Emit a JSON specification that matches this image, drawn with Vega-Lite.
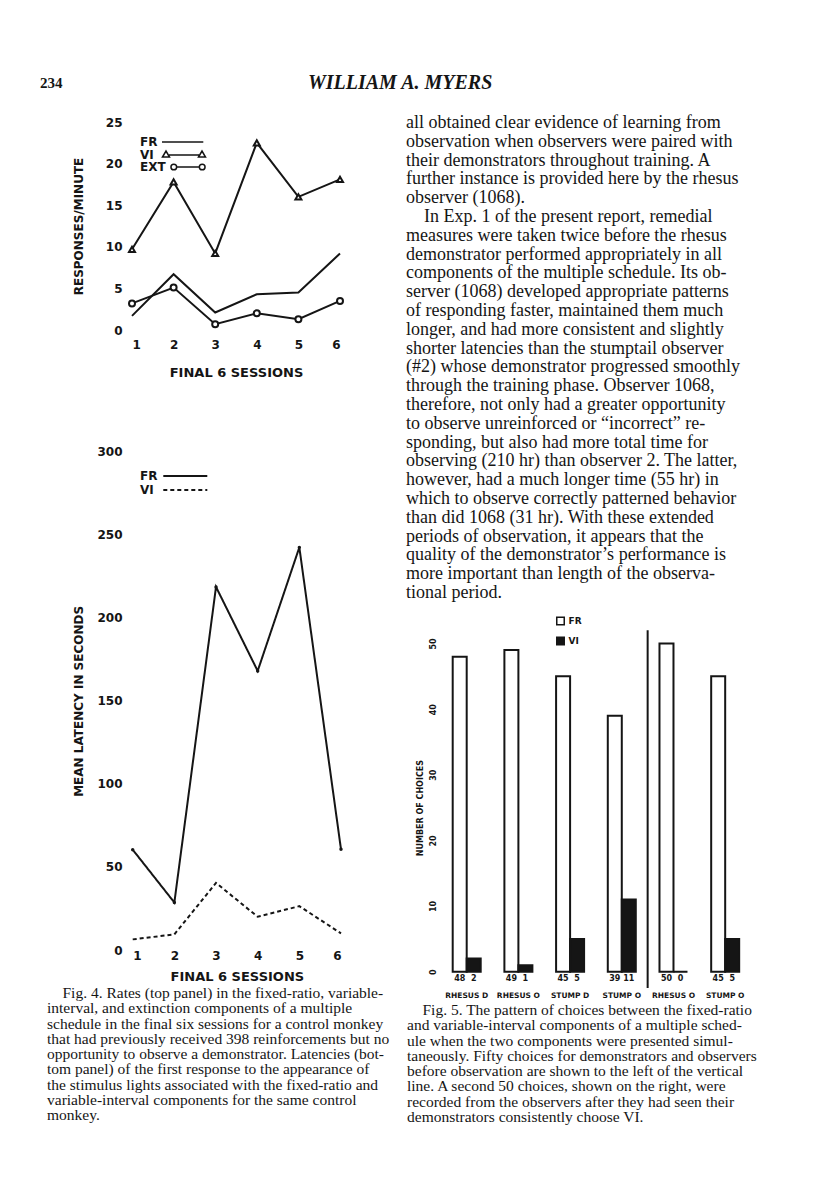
{
  "$schema": "https://vega.github.io/schema/vega-lite/v6.json",
  "width": 816,
  "height": 1193,
  "autosize": {"type": "none"},
  "padding": 0,
  "background": "white",
  "config": {
    "view": {"stroke": null},
    "axis": {"domain": false, "ticks": false, "grid": false, "labelFont": "DejaVu Sans", "labelFontWeight": "bold", "labelColor": "#151515", "titleFont": "DejaVu Sans", "titleFontWeight": "bold", "titleColor": "#151515"},
    "legend": {"labelFont": "DejaVu Sans", "labelFontWeight": "bold", "labelColor": "#151515", "padding": 0}
  },
  "datasets": {
    "top": [
      {"session": 1, "series": "FR", "value": 1.7}, {"session": 2, "series": "FR", "value": 6.7}, {"session": 3, "series": "FR", "value": 2.1},
      {"session": 4, "series": "FR", "value": 4.3}, {"session": 5, "series": "FR", "value": 4.5}, {"session": 6, "series": "FR", "value": 9.2},
      {"session": 1, "series": "VI", "value": 9.7}, {"session": 2, "series": "VI", "value": 17.8}, {"session": 3, "series": "VI", "value": 9.2},
      {"session": 4, "series": "VI", "value": 22.5}, {"session": 5, "series": "VI", "value": 16.0}, {"session": 6, "series": "VI", "value": 18.1},
      {"session": 1, "series": "EXT", "value": 3.2}, {"session": 2, "series": "EXT", "value": 5.1}, {"session": 3, "series": "EXT", "value": 0.7},
      {"session": 4, "series": "EXT", "value": 2.0}, {"session": 5, "series": "EXT", "value": 1.3}, {"session": 6, "series": "EXT", "value": 3.5}
    ],
    "latency": [
      {"session": 1, "series": "FR", "value": 60.4}, {"session": 2, "series": "FR", "value": 28.6}, {"session": 3, "series": "FR", "value": 218.6},
      {"session": 4, "series": "FR", "value": 168}, {"session": 5, "series": "FR", "value": 242.4}, {"session": 6, "series": "FR", "value": 60.6},
      {"session": 1, "series": "VI", "value": 6.4}, {"session": 2, "series": "VI", "value": 9.4}, {"session": 3, "series": "VI", "value": 40.4},
      {"session": 4, "series": "VI", "value": 20}, {"session": 5, "series": "VI", "value": 26.4}, {"session": 6, "series": "VI", "value": 10}
    ],
    "choices": [
      {"group": 1, "subject": "RHESUS D", "component": "fixed-ratio", "value": 48}, {"group": 1, "subject": "RHESUS D", "component": "variable-interval", "value": 2},
      {"group": 2, "subject": "RHESUS O", "component": "fixed-ratio", "value": 49}, {"group": 2, "subject": "RHESUS O", "component": "variable-interval", "value": 1},
      {"group": 3, "subject": "STUMP D", "component": "fixed-ratio", "value": 45}, {"group": 3, "subject": "STUMP D", "component": "variable-interval", "value": 5},
      {"group": 4, "subject": "STUMP O", "component": "fixed-ratio", "value": 39}, {"group": 4, "subject": "STUMP O", "component": "variable-interval", "value": 11},
      {"group": 5, "subject": "RHESUS O", "component": "fixed-ratio", "value": 50}, {"group": 5, "subject": "RHESUS O", "component": "variable-interval", "value": 0},
      {"group": 6, "subject": "STUMP O", "component": "fixed-ratio", "value": 45}, {"group": 6, "subject": "STUMP O", "component": "variable-interval", "value": 5}
    ],
    "text": [
      {"block": "pagenum", "line": 1, "text": "234"},
      {"block": "running", "line": 1, "text": "WILLIAM A. MYERS"},
      {"block": "body", "line": 1, "text": "all obtained clear evidence of learning from"},
      {"block": "body", "line": 2, "text": "observation when observers were paired with"},
      {"block": "body", "line": 3, "text": "their demonstrators throughout training. A"},
      {"block": "body", "line": 4, "text": "further instance is provided here by the rhesus"},
      {"block": "body", "line": 5, "text": "observer (1068)."},
      {"block": "body", "line": 6, "text": "\u2060\u00a0\u00a0\u00a0\u00a0In Exp. 1 of the present report, remedial"},
      {"block": "body", "line": 7, "text": "measures were taken twice before the rhesus"},
      {"block": "body", "line": 8, "text": "demonstrator performed appropriately in all"},
      {"block": "body", "line": 9, "text": "components of the multiple schedule. Its ob-"},
      {"block": "body", "line": 10, "text": "server (1068) developed appropriate patterns"},
      {"block": "body", "line": 11, "text": "of responding faster, maintained them much"},
      {"block": "body", "line": 12, "text": "longer, and had more consistent and slightly"},
      {"block": "body", "line": 13, "text": "shorter latencies than the stumptail observer"},
      {"block": "body", "line": 14, "text": "(#2) whose demonstrator progressed smoothly"},
      {"block": "body", "line": 15, "text": "through the training phase. Observer 1068,"},
      {"block": "body", "line": 16, "text": "therefore, not only had a greater opportunity"},
      {"block": "body", "line": 17, "text": "to observe unreinforced or \u201cincorrect\u201d re-"},
      {"block": "body", "line": 18, "text": "sponding, but also had more total time for"},
      {"block": "body", "line": 19, "text": "observing (210 hr) than observer 2. The latter,"},
      {"block": "body", "line": 20, "text": "however, had a much longer time (55 hr) in"},
      {"block": "body", "line": 21, "text": "which to observe correctly patterned behavior"},
      {"block": "body", "line": 22, "text": "than did 1068 (31 hr). With these extended"},
      {"block": "body", "line": 23, "text": "periods of observation, it appears that the"},
      {"block": "body", "line": 24, "text": "quality of the demonstrator\u2019s performance is"},
      {"block": "body", "line": 25, "text": "more important than length of the observa-"},
      {"block": "body", "line": 26, "text": "tional period."},
      {"block": "cap4", "line": 1, "text": "\u2060\u00a0\u00a0\u00a0\u00a0Fig. 4. Rates (top panel) in the fixed-ratio, variable-"},
      {"block": "cap4", "line": 2, "text": "interval, and extinction components of a multiple"},
      {"block": "cap4", "line": 3, "text": "schedule in the final six sessions for a control monkey"},
      {"block": "cap4", "line": 4, "text": "that had previously received 398 reinforcements but no"},
      {"block": "cap4", "line": 5, "text": "opportunity to observe a demonstrator. Latencies (bot-"},
      {"block": "cap4", "line": 6, "text": "tom panel) of the first response to the appearance of"},
      {"block": "cap4", "line": 7, "text": "the stimulus lights associated with the fixed-ratio and"},
      {"block": "cap4", "line": 8, "text": "variable-interval components for the same control"},
      {"block": "cap4", "line": 9, "text": "monkey."},
      {"block": "cap5", "line": 1, "text": "\u2060\u00a0\u00a0\u00a0\u00a0Fig. 5. The pattern of choices between the fixed-ratio"},
      {"block": "cap5", "line": 2, "text": "and variable-interval components of a multiple sched-"},
      {"block": "cap5", "line": 3, "text": "ule when the two components were presented simul-"},
      {"block": "cap5", "line": 4, "text": "taneously. Fifty choices for demonstrators and observers"},
      {"block": "cap5", "line": 5, "text": "before observation are shown to the left of the vertical"},
      {"block": "cap5", "line": 6, "text": "line. A second 50 choices, shown on the right, were"},
      {"block": "cap5", "line": 7, "text": "recorded from the observers after they had seen their"},
      {"block": "cap5", "line": 8, "text": "demonstrators consistently choose VI."}
    ]
  },
  "layer": [
    {
      "data": {"name": "text"},
      "transform": [{"filter": "datum.block === 'pagenum'"}],
      "mark": {"type": "text", "align": "left", "baseline": "middle", "font": "Liberation Serif", "fontWeight": "bold", "fontSize": 15, "color": "#151515"},
      "encoding": {
        "x": {"field": "block", "type": "nominal", "scale": {"type": "point", "range": [40, 40]}, "axis": null},
        "y": {"field": "line", "type": "quantitative", "scale": {"domain": [0, 2], "range": [103, 63], "nice": false, "zero": false}, "axis": null},
        "text": {"field": "text"}
      }
    },
    {
      "data": {"name": "text"},
      "transform": [{"filter": "datum.block === 'running'"}],
      "mark": {"type": "text", "align": "left", "baseline": "middle", "font": "Liberation Serif", "fontStyle": "italic", "fontWeight": "bold", "fontSize": 20, "color": "#151515"},
      "encoding": {
        "x": {"field": "block", "type": "nominal", "scale": {"type": "point", "range": [308, 308]}, "axis": null},
        "y": {"field": "line", "type": "quantitative", "scale": {"domain": [0, 2], "range": [103, 63], "nice": false, "zero": false}, "axis": null},
        "text": {"field": "text"}
      }
    },
    {
      "data": {"name": "text"},
      "transform": [{"filter": "datum.block === 'body'"}],
      "mark": {"type": "text", "align": "left", "baseline": "middle", "font": "Liberation Serif", "fontSize": 18, "color": "#151515"},
      "encoding": {
        "x": {"field": "block", "type": "nominal", "scale": {"type": "point", "range": [406, 406]}, "axis": null},
        "y": {"field": "line", "type": "quantitative", "scale": {"domain": [1, 26], "range": [123, 593], "nice": false, "zero": false}, "axis": null},
        "text": {"field": "text"}
      }
    },
    {
      "data": {"name": "text"},
      "transform": [{"filter": "datum.block === 'cap4'"}],
      "mark": {"type": "text", "align": "left", "baseline": "middle", "font": "Liberation Serif", "fontSize": 15.5, "color": "#151515"},
      "encoding": {
        "x": {"field": "block", "type": "nominal", "scale": {"type": "point", "range": [47, 47]}, "axis": null},
        "y": {"field": "line", "type": "quantitative", "scale": {"domain": [1, 9], "range": [993, 1115], "nice": false, "zero": false}, "axis": null},
        "text": {"field": "text"}
      }
    },
    {
      "data": {"name": "text"},
      "transform": [{"filter": "datum.block === 'cap5'"}],
      "mark": {"type": "text", "align": "left", "baseline": "middle", "font": "Liberation Serif", "fontSize": 15.5, "color": "#151515"},
      "encoding": {
        "x": {"field": "block", "type": "nominal", "scale": {"type": "point", "range": [407, 407]}, "axis": null},
        "y": {"field": "line", "type": "quantitative", "scale": {"domain": [1, 8], "range": [1010, 1117], "nice": false, "zero": false}, "axis": null},
        "text": {"field": "text"}
      }
    },
    {
      "data": {"name": "top"},
      "encoding": {
        "x": {"field": "session", "type": "quantitative", "scale": {"domain": [1, 6], "range": [132, 340], "nice": false, "zero": false},
          "axis": {"orient": "bottom", "offset": -856, "labelPadding": 2, "values": [1, 2, 3, 4, 5, 6], "format": "d", "labelFontSize": 12, "title": "FINAL 6 SESSIONS", "titleFontSize": 13, "titleY": 35, "titleBaseline": "middle"}},
        "y": {"field": "value", "type": "quantitative", "scale": {"domain": [0, 25], "range": [330, 122], "nice": false, "zero": false},
          "axis": {"orient": "left", "offset": -124, "labelPadding": 2, "values": [0, 5, 10, 15, 20, 25], "labelFontSize": 12, "title": "RESPONSES/MINUTE", "titleFontSize": 12, "titleX": -46, "titleBaseline": "middle", "titleAlign": "center"}}
      },
      "layer": [
        {"mark": {"type": "line", "color": "#151515", "strokeWidth": 2}, "encoding": {"detail": {"field": "series"}}},
        {
          "transform": [{"filter": "datum.series !== 'FR'"}],
          "mark": {"type": "point", "filled": true, "fill": "white", "stroke": "#151515", "strokeWidth": 2, "size": 36, "opacity": 1},
          "encoding": {"shape": {"field": "series", "type": "nominal", "scale": {"domain": ["VI", "EXT"], "range": ["triangle-up", "circle"]}, "legend": null}}
        }
      ]
    },
    {
      "data": {"name": "top"},
      "transform": [{"filter": "false"}],
      "mark": {"type": "point", "color": "#151515", "strokeWidth": 1.5},
      "encoding": {
        "shape": {"field": "series", "type": "nominal",
          "scale": {"domain": ["FR", "VI", "EXT"], "range": [
            "M8,0L28.65,0",
            "M8.25,1L10,-2L11.75,1Z M11.5,0L26.5,0 M26.25,1L28,-2L29.75,1Z",
            "M12.47,0A1.43,1.43 0 1,0 15.33,0A1.43,1.43 0 1,0 12.47,0Z M15.33,0L26.67,0 M26.67,0A1.43,1.43 0 1,0 29.53,0A1.43,1.43 0 1,0 26.67,0Z"
          ]},
          "legend": {"orient": "none", "legendX": 140, "legendY": 136, "title": null, "symbolSize": 16, "symbolStrokeWidth": 1.5, "symbolStrokeColor": "#151515", "symbolOpacity": 1, "labelAlign": "left", "labelOffset": -12, "labelFontSize": 12, "rowPadding": 0}}
      }
    },
    {
      "data": {"name": "latency"},
      "encoding": {
        "x": {"field": "session", "type": "quantitative", "scale": {"domain": [1, 6], "range": [132.7, 341], "nice": false, "zero": false},
          "axis": {"orient": "bottom", "offset": -245, "labelPadding": 2, "values": [1, 2, 3, 4, 5, 6], "format": "d", "labelFontSize": 12, "title": "FINAL 6 SESSIONS", "titleFontSize": 13, "titleY": 28, "titleBaseline": "middle"}},
        "y": {"field": "value", "type": "quantitative", "scale": {"domain": [0, 300], "range": [950, 451.7], "nice": false, "zero": false},
          "axis": {"orient": "left", "offset": -124, "labelPadding": 2, "values": [0, 50, 100, 150, 200, 250, 300], "labelFontSize": 12, "title": "MEAN LATENCY IN SECONDS", "titleFontSize": 12, "titleX": -46, "titleBaseline": "middle", "titleAlign": "center"}}
      },
      "layer": [
        {
          "mark": {"type": "line", "color": "#151515", "strokeWidth": 2},
          "encoding": {"strokeDash": {"field": "series", "type": "nominal", "scale": {"domain": ["FR", "VI"], "range": [[1, 0], [4, 3]]},
            "legend": {"orient": "none", "legendX": 140, "legendY": 470, "title": null, "symbolType": "M8.65,0L30.65,0", "symbolSize": 16, "symbolStrokeWidth": 2, "symbolStrokeColor": "#151515", "labelAlign": "left", "labelOffset": -12, "labelFontSize": 12, "rowPadding": 2}}}
        },
        {
          "transform": [{"filter": "datum.series === 'FR'"}],
          "mark": {"type": "point", "filled": true, "color": "#151515", "size": 12, "opacity": 1}
        }
      ]
    },
    {
      "data": {"name": "choices"},
      "mark": {"type": "bar", "stroke": "#151515", "strokeWidth": 2},
      "encoding": {
        "x": {"field": "group", "type": "ordinal", "scale": {"type": "band", "range": [452.7, 739.2], "paddingInner": 0.458, "paddingOuter": 0},
          "axis": {"orient": "bottom", "offset": -204, "labelPadding": 2, "labelAngle": 0, "labelFontSize": 7.5, "title": null,
            "labelExpr": "['', 'RHESUS D', 'RHESUS O', 'STUMP D', 'STUMP O', 'RHESUS O', 'STUMP O'][datum.value]"}},
        "xOffset": {"field": "component", "type": "nominal", "scale": {"domain": ["fixed-ratio", "variable-interval"], "range": [0, 28]}},
        "y": {"field": "value", "type": "quantitative", "scale": {"domain": [0, 50], "range": [971.7, 643.5], "nice": false, "zero": false},
          "axis": {"orient": "left", "offset": -439, "labelPadding": 2, "labelAngle": -90, "values": [0, 10, 20, 30, 40, 50], "labelFontSize": 8, "title": "NUMBER OF CHOICES", "titleFontSize": 8, "titleX": -19, "titleBaseline": "middle", "titleAlign": "center"}},
        "fill": {"field": "component", "type": "nominal", "scale": {"domain": ["fixed-ratio", "variable-interval"], "range": ["white", "#151515"]},
          "legend": {"orient": "none", "legendX": 556, "legendY": 616.5, "title": null, "symbolType": "square", "symbolSize": 56, "symbolStrokeColor": "#151515", "symbolStrokeWidth": 1.5, "labelFontSize": 9, "labelOffset": 3.5, "rowPadding": 5,
            "labelExpr": "datum.value === 'fixed-ratio' ? 'FR' : 'VI'"}}
      }
    },
    {
      "data": {"name": "choices"},
      "mark": {"type": "text", "dy": 7, "baseline": "middle", "font": "DejaVu Sans", "fontWeight": "bold", "fontSize": 8, "color": "#151515"},
      "encoding": {
        "x": {"field": "group", "type": "ordinal", "scale": {"type": "band", "range": [452.7, 739.2], "paddingInner": 0.458, "paddingOuter": 0}, "axis": null},
        "xOffset": {"field": "component", "type": "nominal", "scale": {"domain": ["fixed-ratio", "variable-interval"], "range": [0, 28]}},
        "y": {"datum": 0, "type": "quantitative", "scale": {"domain": [0, 50], "range": [971.7, 643.5], "nice": false, "zero": false}, "axis": null},
        "text": {"field": "value"}
      }
    },
    {
      "data": {"values": [{"divider": "before / after observation"}]},
      "mark": {"type": "rule", "color": "#151515", "strokeWidth": 2},
      "encoding": {
        "x": {"datum": 4.5, "type": "quantitative", "scale": {"domain": [1, 6], "range": [466.7, 725.2], "nice": false, "zero": false}, "axis": null},
        "y": {"datum": 52, "type": "quantitative", "scale": {"domain": [0, 50], "range": [971.7, 643.5], "nice": false, "zero": false}, "axis": null},
        "y2": {"datum": -2.5}
      }
    }
  ],
  "resolve": {"scale": {"x": "independent", "y": "independent", "shape": "independent", "xOffset": "independent"}}
}
